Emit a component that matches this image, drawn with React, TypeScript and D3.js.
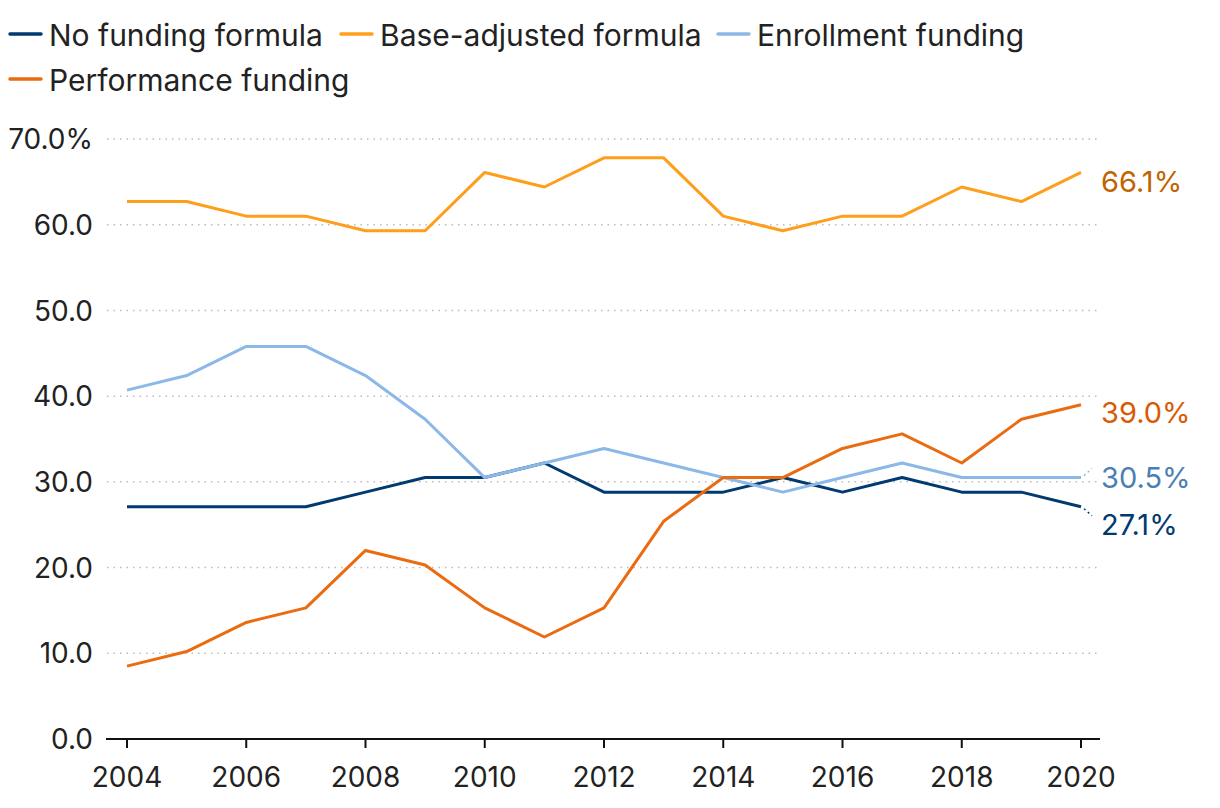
import React from "react";
import * as d3 from "d3";

const years = [2004,2005,2006,2007,2008,2009,2010,2011,2012,2013,2014,2015,2016,2017,2018,2019,2020];
const noFunding = [27.1,27.1,27.1,27.1,28.8,30.5,30.5,32.2,28.8,28.8,28.8,30.5,28.8,30.5,28.8,28.8,27.1];
const baseAdjusted = [62.7,62.7,61.0,61.0,59.3,59.3,66.1,64.4,67.8,67.8,61.0,59.3,61.0,61.0,64.4,62.7,66.1];
const enrollment = [40.7,42.4,45.8,45.8,42.4,37.3,30.5,32.2,33.9,32.2,30.5,28.8,30.5,32.2,30.5,30.5,30.5];
const performance = [8.5,10.2,13.6,15.3,22.0,20.3,15.3,11.9,15.3,25.4,30.5,30.5,33.9,35.6,32.2,37.3,39.0];
const yTicks = [0,10,20,30,40,50,60,70];
const xTicks = [2004,2006,2008,2010,2012,2014,2016,2018,2020];

const seriesNames = ["No funding formula","Base-adjusted formula","Enrollment funding","Performance funding"];
const seriesColors = ["#003a70","#ff9e1b","#8cb8e8","#ea6b10"];
const labelColors = ["#003a70","#c06400","#4a7fb5","#d85a05"];
const seriesValues = [noFunding, baseAdjusted, enrollment, performance];

export default function App() {
  const W = 1220, H = 808;
  const x = d3.scaleLinear().domain([2004, 2020]).range([127, 1081]);
  const y = d3.scaleLinear().domain([0, 70]).range([739, 139]);
  const line = d3.line<number>().x((_, i) => x(years[i])).y(d => y(d));
  const font = "Inter, 'Noto Sans', sans-serif";

  const legendItems = [
    { i: 0, lx: 10, ly: 34 },
    { i: 1, lx: 341, ly: 34 },
    { i: 2, lx: 718, ly: 34 },
    { i: 3, lx: 10, ly: 79 },
  ];

  const endLabels = [
    { i: 1, ly: 182, leader: 0 },
    { i: 3, ly: 413, leader: 0 },
    { i: 2, ly: 478, leader: -1 },
    { i: 0, ly: 525, leader: 1 },
  ];

  return (
    <svg width={W} height={H} style={{ position: "absolute", left: 0, top: 0, background: "#fff" }} fontFamily={font}>
      {legendItems.map(({ i, lx, ly }) => (
        <g key={i}>
          <line x1={lx} x2={lx + 31} y1={ly} y2={ly} stroke={seriesColors[i]} strokeWidth={3.5} strokeLinecap="round" />
          <text x={lx + 39} y={ly + 1} dy="0.35em" fontSize={30} fill="#222">{seriesNames[i]}</text>
        </g>
      ))}
      {yTicks.filter(t => t > 0).map(t => (
        <line key={t} x1={107} x2={1100} y1={y(t)} y2={y(t)} stroke="#bbb" strokeWidth={1.5} strokeDasharray="1.5 5" />
      ))}
      {yTicks.map(t => (
        <text key={t} x={93} y={y(t)} dy="0.36em" textAnchor="end" fontSize={28} fill="#222">
          {t === 70 ? "70.0%" : t.toFixed(1)}
        </text>
      ))}
      <line x1={106} x2={1100} y1={y(0)} y2={y(0)} stroke="#111" strokeWidth={2} />
      {xTicks.map(t => (
        <g key={t}>
          <line x1={x(t)} x2={x(t)} y1={y(0)} y2={y(0) + 9} stroke="#111" strokeWidth={2} />
          <text x={x(t)} y={777} dy="0.35em" textAnchor="middle" fontSize={28} fill="#222">{t}</text>
        </g>
      ))}
      {seriesValues.map((vals, i) => (
        <path key={i} d={line(vals) || ""} fill="none" stroke={seriesColors[i]} strokeWidth={3} strokeLinejoin="round" />
      ))}
      {endLabels.map(({ i, ly, leader }) => {
        const vals = seriesValues[i];
        const v = vals[vals.length - 1];
        const ex = x(2020), ey = y(v);
        return (
          <g key={i}>
            {leader !== 0 && (
              <line x1={ex + 3} y1={ey + leader * 2} x2={ex + 11} y2={ey + leader * 9}
                stroke={seriesColors[i]} strokeWidth={1.5} strokeDasharray="2 3" />
            )}
            <text x={1101} y={ly} dy="0.35em" fontSize={29} fill={labelColors[i]}>{v.toFixed(1)}%</text>
          </g>
        );
      })}
    </svg>
  );
}
